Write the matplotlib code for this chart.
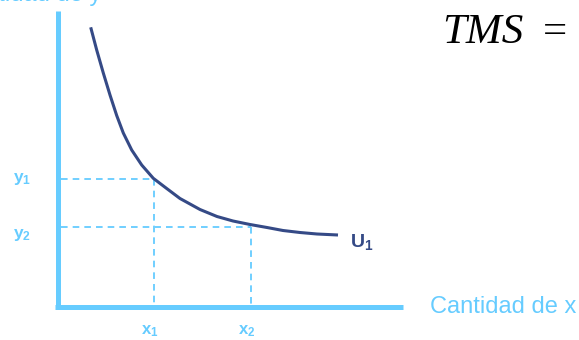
import numpy as np
import matplotlib
matplotlib.use('Agg')
import matplotlib.pyplot as plt

plt.rcParams['mathtext.fontset'] = 'custom'
plt.rcParams['mathtext.rm'] = 'Liberation Sans'
plt.rcParams['mathtext.bf'] = 'Liberation Sans:bold'
plt.rcParams['font.family'] = 'Liberation Sans'

# indifference curve U1 (x, y)
curve_x = [31.7, 37.7, 44.3, 51, 57.7, 64.3, 72.7, 82.7, 94.3, 107.7,
           121, 141, 158, 174, 191, 208, 224, 241, 258, 279]
curve_y = [279.7, 257, 234, 212, 191.5, 174, 157, 142, 128.7, 118.5,
           108.5, 97.5, 90.5, 86, 82.5, 79.5, 76.5, 74.5, 73, 72]

# the two marked bundles
bundle_x = [95, 192]
bundle_y = [128, 80]
x_labels = [r'$\mathbf{x_1}$', r'$\mathbf{x_2}$']
y_labels = [r'$\mathbf{y_1}$', r'$\mathbf{y_2}$']

axis_col = '#66ccff'
dash_col = '#70cfff'
curve_col = '#354a86'

fig = plt.figure(figsize=(5.79, 3.4), dpi=100)
ax = fig.add_axes([0, 0, 1, 1])
ax.set_xlim(-59, 520)
ax.set_ylim(-33, 307)
ax.axis('off')

# axes
ax.plot([-1.5, -1.5], [-2, 296], color=axis_col, lw=3.6, solid_capstyle='butt')
ax.plot([-4, 344], [0, 0], color=axis_col, lw=3.6, solid_capstyle='butt')

# dashed guide lines
for bx, by in zip(bundle_x, bundle_y):
    ax.plot([2, bx], [by, by], color=dash_col, lw=1.4, dashes=(3.4, 2.6))
    ax.plot([bx, bx], [by, 2], color=dash_col, lw=1.4, dashes=(3.4, 2.6))

# curve
ax.plot(curve_x, curve_y, color=curve_col, lw=2.2, solid_joinstyle='round',
        solid_capstyle='butt')

# labels
for bx, lab in zip(bundle_x, x_labels):
    ax.text(bx - 13, -27.5, lab, color=axis_col, fontsize=12, ha='left', va='baseline')
for lab, yy in zip(y_labels, [125, 69]):
    ax.text(-46, yy, lab, color=axis_col, fontsize=12.5, ha='left', va='baseline')
ax.text(291, 60, r'$\mathbf{U_1}$', color=curve_col, fontsize=14, ha='left', va='baseline')

ax.text(371, -6, 'Cantidad de x', color=axis_col, fontsize=17, ha='left', va='baseline')
ax.text(42, 306, 'Cantidad de y', color=axis_col, fontsize=17, ha='right', va='baseline')

ax.text(383, 264, 'TMS', fontfamily='Liberation Serif', style='italic', fontsize=31,
        color='black', ha='left', va='baseline')
ax.text(484, 264, '=', fontfamily='Liberation Serif', fontsize=31,
        color='black', ha='left', va='baseline')

fig.savefig('out.png', dpi=100)
